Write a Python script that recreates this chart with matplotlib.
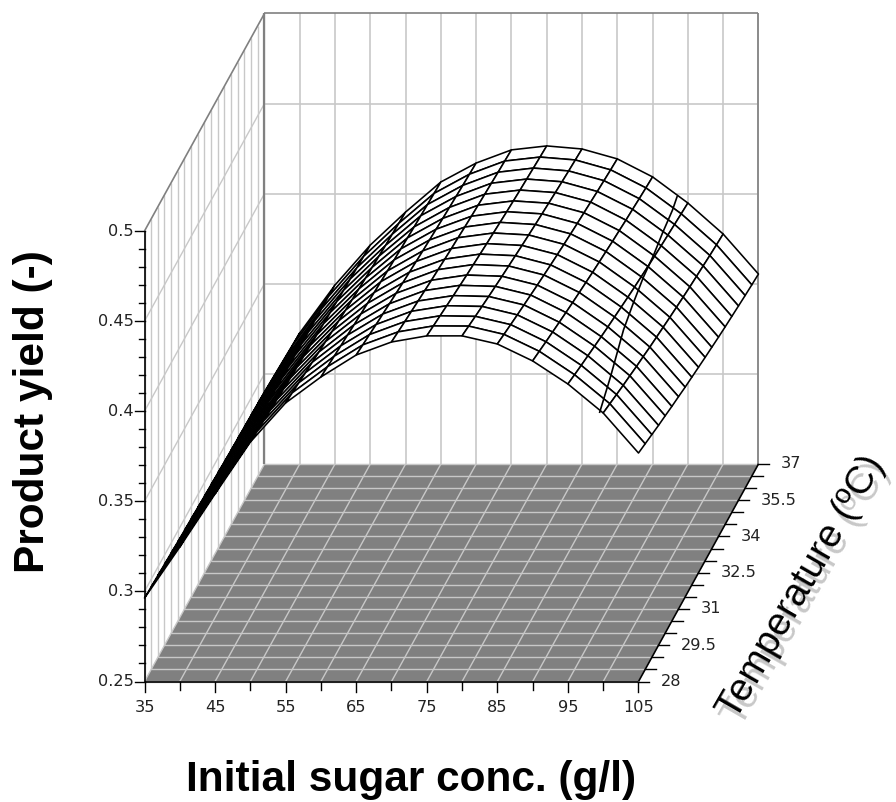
import matplotlib

matplotlib.use("Agg")
import matplotlib.pyplot as plt
import numpy as np
from matplotlib.collections import PolyCollection

sugar = [35, 40, 45, 50, 55, 60, 65, 70, 75, 80, 85, 90, 95, 100, 105]
temperature = [28, 28.5, 29, 29.5, 30, 30.5, 31, 31.5, 32, 32.5, 33, 33.5, 34, 34.5, 35, 35.5, 36, 36.5, 37]
yield_table = [
    [.2963, .3246, .3541, .3829, .4046, .4190, .4312, .4384, .4418, .4418, .4373, .4279, .4151, .3990, .3768],
    [.2958, .3245, .3537, .3820, .4035, .4180, .4301, .4373, .4406, .4405, .4359, .4265, .4135, .3974, .3752],
    [.2954, .3243, .3534, .3812, .4024, .4171, .4291, .4363, .4395, .4392, .4346, .4251, .4120, .3958, .3736],
    [.2949, .3242, .3530, .3804, .4013, .4162, .4280, .4353, .4384, .4380, .4333, .4238, .4106, .3942, .3720],
    [.2945, .3240, .3527, .3796, .4003, .4154, .4271, .4343, .4373, .4368, .4321, .4225, .4092, .3928, .3706],
    [.2940, .3239, .3524, .3788, .3993, .4145, .4261, .4334, .4363, .4357, .4309, .4212, .4078, .3913, .3691],
    [.2936, .3238, .3521, .3781, .3984, .4137, .4252, .4324, .4353, .4346, .4297, .4200, .4065, .3900, .3678],
    [.2933, .3237, .3518, .3774, .3974, .4129, .4243, .4316, .4344, .4336, .4286, .4189, .4053, .3886, .3664],
    [.2929, .3236, .3515, .3767, .3966, .4122, .4235, .4307, .4335, .4326, .4275, .4178, .4041, .3874, .3652],
    [.2925, .3235, .3512, .3761, .3957, .4115, .4227, .4299, .4326, .4316, .4265, .4167, .4029, .3862, .3640],
    [.2922, .3234, .3510, .3754, .3949, .4108, .4219, .4292, .4318, .4307, .4255, .4157, .4018, .3850, .3628],
    [.2919, .3233, .3507, .3748, .3941, .4102, .4212, .4284, .4310, .4298, .4246, .4148, .4008, .3839, .3617],
    [.2915, .3232, .3505, .3743, .3934, .4096, .4205, .4277, .4302, .4290, .4237, .4138, .3998, .3828, .3606],
    [.2912, .3231, .3502, .3738, .3927, .4090, .4198, .4271, .4295, .4282, .4229, .4130, .3988, .3818, .3596],
    [.2910, .3230, .3500, .3732, .3921, .4084, .4192, .4265, .4288, .4274, .4221, .4121, .3979, .3809, .3587],
    [.2907, .3229, .3498, .3728, .3914, .4079, .4186, .4259, .4282, .4267, .4213, .4114, .3971, .3800, .3578],
    [.2905, .3228, .3496, .3723, .3909, .4074, .4180, .4253, .4276, .4260, .4206, .4106, .3963, .3791, .3569],
    [.2902, .3228, .3495, .3719, .3903, .4069, .4175, .4248, .4270, .4254, .4199, .4099, .3955, .3783, .3561],
    [.2900, .3227, .3493, .3715, .3898, .4065, .4170, .4243, .4265, .4248, .4193, .4093, .3948, .3776, .3554],
]

# the plot has one stray line across the surface
stray_sugar = [99.47, 99.14, 99.1, 98.6, 98.15, 97.7, 97.07, 95.65, 93.5]
stray_temp = [28, 29, 30, 31, 32, 33, 34, 35.5, 37]
stray_yield = [.3990, .4056, .4183, .4198, .4208, .4196, .4184, .4110, .3987]

sugar_ticks = [35, 40, 45, 50, 55, 60, 65, 70, 75, 80, 85, 90, 95, 100, 105]
sugar_labels = ["35", "", "45", "", "55", "", "65", "", "75", "", "85", "", "95", "", "105"]
temp_major = [28, 29.5, 31, 32.5, 34, 35.5, 37]
temp_labels = ["28", "29.5", "31", "32.5", "34", "35.5", "37"]
yield_major = [0.25, 0.3, 0.35, 0.4, 0.45, 0.5]
yield_labels = ["0.25", "0.3", "0.35", "0.4", "0.45", "0.5"]
yield_minor = [.26, .27, .28, .29, .31, .32, .33, .34, .36, .37, .38, .39, .41, .42, .43, .44, .46, .47, .48, .49]

GRID = "#c8c8c8"
WALL = "#808080"
TICK_FONT = 11.6


def project(s, t, z):
    # oblique view, result is in figure pixels
    s, t, z = np.asarray(s, float), np.asarray(t, float), np.asarray(z, float)
    px = 144.5 + (s - 35) * 7.057 + (t - 28) * 13.33
    py = 681.5 - (t - 28) * 24.17 - (z - 0.25) * 1802
    return px, py


def line3d(ax, s, t, z, **kw):
    px, py = project(s, t, z)
    ax.plot(px, py, solid_capstyle="butt", **kw)


fig = plt.figure(figsize=(8.96, 8.02), dpi=100)
ax = fig.add_axes([0, 0, 1, 1])
ax.set_xlim(0, 896)
ax.set_ylim(802, 0)
ax.axis("off")

s_min, s_max = sugar[0], sugar[-1]
t_min, t_max = temperature[0], temperature[-1]
z_min, z_max = yield_major[0], yield_major[-1]

# floor
fx, fy = project([s_min, s_max, s_max, s_min], [t_min, t_min, t_max, t_max], z_min)
ax.fill(fx, fy, color=WALL, lw=0, zorder=1)
for s in sugar:
    line3d(ax, [s, s], [t_min, t_max], [z_min, z_min], color=GRID, lw=1.0, zorder=2)
for t in temperature:
    line3d(ax, [s_min, s_max], [t, t], [z_min, z_min], color=GRID, lw=1.0, zorder=2)

# back wall and side wall
for s in sugar:
    line3d(ax, [s, s], [t_max, t_max], [z_min, z_max], color=GRID, lw=1.2, zorder=1)
for t in temperature:
    line3d(ax, [s_min, s_min], [t, t], [z_min, z_max], color=GRID, lw=1.0, zorder=1)
for z in yield_major[1:-1]:
    line3d(ax, [s_min, s_max], [t_max, t_max], [z, z], color=GRID, lw=1.2, zorder=1)
    line3d(ax, [s_min, s_min], [t_min, t_max], [z, z], color=GRID, lw=1.0, zorder=1)
line3d(ax, [s_min, s_max], [t_max, t_max], [z_max, z_max], color=WALL, lw=1.2, zorder=2)
line3d(ax, [s_min, s_min], [t_min, t_max], [z_max, z_max], color=WALL, lw=1.2, zorder=2)
line3d(ax, [s_min, s_min], [t_max, t_max], [z_min, z_max], color=WALL, lw=1.6, zorder=2)
line3d(ax, [s_max, s_max], [t_max, t_max], [z_min, z_max], color=WALL, lw=1.2, zorder=2)

# surface, back rows first so the front cells cover them
S, T = np.meshgrid(sugar, temperature)
X, Y = project(S, T, np.array(yield_table))
cells = []
for i in range(len(temperature) - 2, -1, -1):
    for j in range(len(sugar) - 1):
        cells.append([(X[i, j], Y[i, j]), (X[i, j + 1], Y[i, j + 1]),
                      (X[i + 1, j + 1], Y[i + 1, j + 1]), (X[i + 1, j], Y[i + 1, j])])
ax.add_collection(PolyCollection(cells, facecolors="white", edgecolors="black", linewidths=1.15, zorder=3))
line3d(ax, stray_sugar, stray_temp, stray_yield, color="black", lw=1.2, zorder=4)

# axes lines and ticks
line3d(ax, [s_min, s_min], [t_min, t_min], [z_min, z_max], color="black", lw=1.2, zorder=5)
line3d(ax, [s_min, s_max], [t_min, t_min], [z_min, z_min], color="black", lw=1.2, zorder=5)
line3d(ax, [s_max, s_max], [t_min, t_max], [z_min, z_min], color="black", lw=1.2, zorder=5)

for z, label in zip(yield_major, yield_labels):
    px, py = project(s_min, t_min, z)
    ax.plot([px - 10, px], [py, py], color="black", lw=1.0, zorder=5)
    ax.text(px - 11, py, label, ha="right", va="center", fontsize=TICK_FONT, color="#222222")
for z in yield_minor:
    px, py = project(s_min, t_min, z)
    ax.plot([px - 6, px], [py, py], color="black", lw=1.0, zorder=5)

for s, label in zip(sugar_ticks, sugar_labels):
    px, py = project(s, t_min, z_min)
    ax.plot([px, px], [py, py + (10 if label else 8)], color="black", lw=1.0, zorder=5)
    if label:
        ax.text(px, py + 26, label, ha="center", va="center", fontsize=TICK_FONT, color="#222222")

for t in temperature:
    px, py = project(s_max, t, z_min)
    ax.plot([px, px + 11], [py, py], color="black", lw=1.0, zorder=5)
for t, label in zip(temp_major, temp_labels):
    px, py = project(s_max, t, z_min)
    ax.text(px + 22, py, label, ha="left", va="center", fontsize=TICK_FONT, color="#222222")

# axis titles
ax.text(33, 412, "Product yield (-)", rotation=90, ha="center", va="center",
        fontsize=30.5, fontweight="bold", family="Liberation Sans")
ax.text(411, 780, "Initial sugar conc. (g/l)", ha="center", va="center",
        fontsize=30.5, fontweight="bold", family="Liberation Sans")
ax.text(807, 594, "Temperature (\u00baC)", rotation=60, ha="center", va="center",
        fontsize=28, color=GRID, family="Liberation Sans", rotation_mode="anchor")
ax.text(802, 587, "Temperature (\u00baC)", rotation=60, ha="center", va="center",
        fontsize=28, color="black", family="Liberation Sans", rotation_mode="anchor")

fig.savefig("out.png", dpi=100)
